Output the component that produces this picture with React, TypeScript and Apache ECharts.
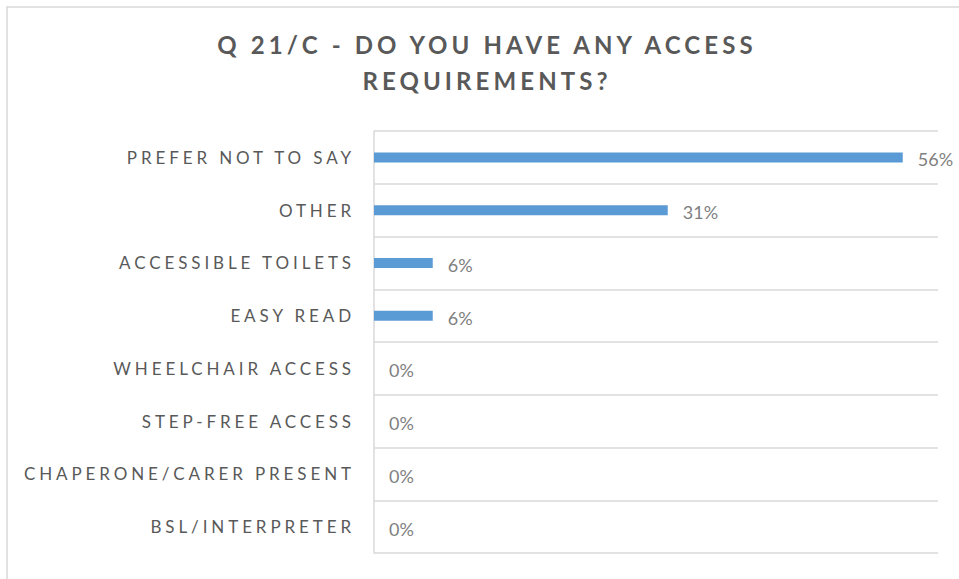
import React, { useEffect, useRef } from "react";
import * as echarts from "echarts";

const titleLines = ["Q 21/C - DO YOU HAVE ANY ACCESS", "REQUIREMENTS?"];
const categories = [
  "PREFER NOT TO SAY",
  "OTHER",
  "ACCESSIBLE TOILETS",
  "EASY READ",
  "WHEELCHAIR ACCESS",
  "STEP-FREE ACCESS",
  "CHAPERONE/CARER PRESENT",
  "BSL/INTERPRETER",
];
const values = [0.5625, 0.3125, 0.0625, 0.0625, 0, 0, 0, 0];

const TITLE_SPACING = 4.1;
const LABEL_SPACING = 3.9;

function applySpacing(root: HTMLElement) {
  const texts = root.querySelectorAll("text");
  texts.forEach((t) => {
    const s = (t.textContent || "").trim();
    if (titleLines.includes(s)) {
      t.setAttribute("letter-spacing", TITLE_SPACING + "px");
    } else if (categories.includes(s)) {
      t.setAttribute("letter-spacing", LABEL_SPACING + "px");
    }
  });
}

export default function App() {
  const ref = useRef<HTMLDivElement>(null);
  useEffect(() => {
    if (!ref.current) return;
    const chart = echarts.init(ref.current, undefined, { renderer: "svg" });
    chart.setOption({
      animation: false,
      backgroundColor: "#ffffff",
      title: {
        text: titleLines.join("\n"),
        left: 487,
        textAlign: "center",
        top: 26,
        padding: 0,
        textStyle: {
          fontFamily: "Lato",
          fontWeight: "bold",
          fontSize: 24,
          lineHeight: 36,
          color: "#595959",
        },
      },
      graphic: [
        {
          type: "rect",
          shape: { x: 7, y: 7, width: 1000, height: 1000 },
          style: { fill: "none", stroke: "#d9d9d9", lineWidth: 1.5 },
          silent: true,
        },
      ],
      grid: { left: 374, right: 21, top: 131, bottom: 26, containLabel: false },
      xAxis: {
        type: "value",
        min: 0,
        max: 0.6,
        show: false,
        splitLine: { show: false },
      },
      yAxis: {
        type: "category",
        inverse: true,
        data: categories,
        axisTick: { show: false },
        axisLine: { show: true, lineStyle: { color: "#d9d9d9", width: 1.5 } },
        splitLine: { show: true, lineStyle: { color: "#d9d9d9", width: 1.5 } },
        axisLabel: {
          margin: 19,
          fontFamily: "Lato",
          fontSize: 17,
          color: "#595959",
        },
      },
      series: [
        {
          type: "bar",
          data: values,
          barWidth: 10,
          itemStyle: { color: "#5b9bd5" },
          label: {
            show: true,
            position: "right",
            distance: 15,
            offset: [0, 2],
            fontFamily: "Lato",
            fontSize: 18,
            color: "#7f7f7f",
            formatter: (p: any) => Math.round(p.value * 100) + "%",
          },
        },
      ],
    });
    const root = ref.current;
    applySpacing(root);
    chart.on("finished", () => applySpacing(root));
    const timer = setTimeout(() => applySpacing(root), 50);
    return () => {
      clearTimeout(timer);
      chart.dispose();
    };
  }, []);
  return (
    <div
      ref={ref}
      style={{ position: "fixed", left: 0, top: 0, width: 959, height: 579 }}
    />
  );
}
